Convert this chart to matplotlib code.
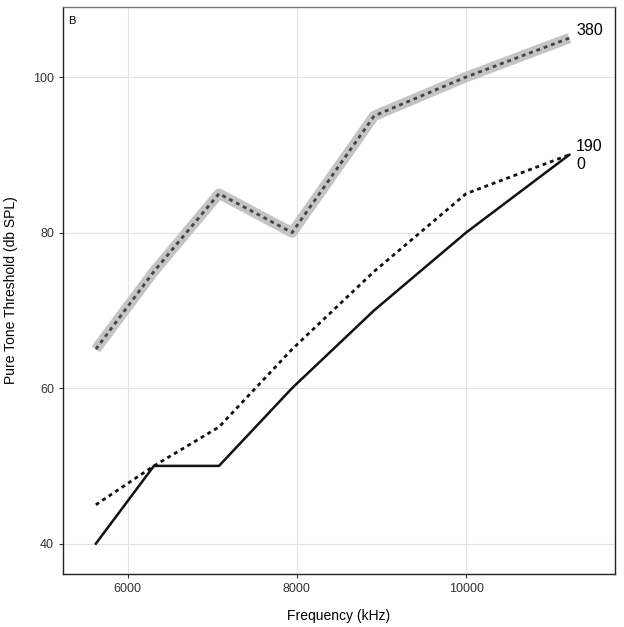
import matplotlib
matplotlib.use('Agg')
import matplotlib.pyplot as plt

plt.rcParams['font.family'] = ['Liberation Sans', 'DejaVu Sans']

# 1/20-decade frequencies
freqs = [5623, 6310, 7079, 7943, 8913, 10000, 11220]
thr_0 = [40, 50, 50, 60, 70, 80, 90]
thr_190 = [45, 50, 55, 65, 75, 85, 90]
thr_380 = [65, 75, 85, 80, 95, 100, 105]
end_labels = {'380': 105, '190': 90, '0': 90}

fig = plt.figure(figsize=(6.24, 6.27), dpi=100)
ax = fig.add_axes([63 / 624, 1 - 574 / 627, (615 - 63) / 624, (574 - 7) / 627])

ax.plot(freqs, thr_380, color='#c4c4c4', lw=7.5, solid_capstyle='butt', zorder=2)
ax.plot(freqs, thr_380, color='#444444', lw=2.0, dashes=(1.4, 1.4), zorder=3)
ax.plot(freqs, thr_190, color='#111111', lw=2.0, dashes=(1.4, 1.4), zorder=3)
ax.plot(freqs, thr_0, color='#111111', lw=1.8, zorder=3)

xr = freqs[-1]
ax.text(xr + 80, end_labels['380'] + 1.0, '380', fontsize=11.5, ha='left', va='center')
ax.text(xr + 80, end_labels['190'] + 1.1, '190', fontsize=11.5, ha='left', va='center')
ax.text(xr + 80, end_labels['0'] - 1.3, '0', fontsize=11.5, ha='left', va='center')
ax.text(0.01, 0.985, 'B', transform=ax.transAxes, fontsize=8, ha='left', va='top')

ax.set_xlim(5235, 11760)
ax.set_ylim(36.1, 109.0)
ax.set_xticks([6000, 8000, 10000])
ax.set_yticks([40, 60, 80, 100])
ax.grid(True, color='#e3e3e3', lw=0.8)
ax.set_axisbelow(True)
ax.tick_params(labelsize=9, length=3, width=0.8, color='#333333', labelcolor='#333333')

for side in ['left', 'bottom', 'right']:
    ax.spines[side].set_color('#222222')
    ax.spines[side].set_linewidth(1.0)
ax.spines['top'].set_color('#777777')
ax.spines['top'].set_linewidth(1.0)

ax.set_xlabel('Frequency (kHz)', fontsize=10, labelpad=10)
ax.set_ylabel('Pure Tone Threshold (db SPL)', fontsize=10, labelpad=11)

fig.savefig('out.png', dpi=100)
